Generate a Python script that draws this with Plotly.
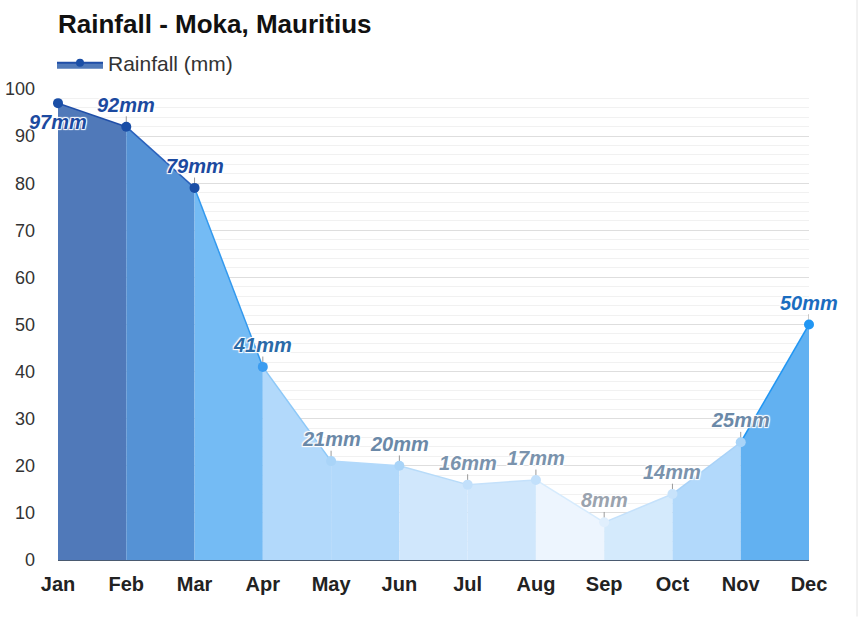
import plotly.graph_objects as go

months = ["Jan", "Feb", "Mar", "Apr", "May", "Jun", "Jul", "Aug", "Sep", "Oct", "Nov", "Dec"]
rainfall = [97, 92, 79, 41, 21, 20, 16, 17, 8, 14, 25, 50]
labels = [f"{v}mm" for v in rainfall]
y_ticks = [0, 10, 20, 30, 40, 50, 60, 70, 80, 90, 100]

# styles
seg_fill = ["#5079b9", "#5592d5", "#74bbf4", "#b2d9fb", "#b2d9fb", "#d0e7fc",
            "#d0e7fc", "#edf5fe", "#d4eafc", "#b2d9fb", "#62b1f1"]
seg_line = ["#1f4ea8", "#2a62bd", "#3399ee", "#8cc8f8", "#b2d9fb", "#b7dbf9",
            "#c4e1fb", "#d6ebfd", "#c4e1fb", "#a8d2f8", "#2196f3"]
marker_col = ["#1a4ea6", "#1a4ea6", "#1a4ea6", "#3b9cf0", "#a9d4f8", "#a9d4f8",
              "#c2e0fb", "#c2e0fb", "#e0effd", "#c8e3fb", "#a9d4f8", "#2196f3"]
label_col = ["#1c4aa0", "#1c4aa0", "#1c4aa0", "#2a6aa8", "#6b89a8", "#6b89a8",
             "#7a93ad", "#7a93ad", "#9aa3ae", "#7a93ad", "#6b89a8", "#1a6dc0"]

FONT = "Liberation Sans, Arial, sans-serif"

fig = go.Figure()

for i in range(len(months) - 1):
    x0, x1 = i, i + 1
    fig.add_trace(go.Scatter(
        x=[x0, x1, x1, x0, x0], y=[rainfall[i], rainfall[i + 1], 0, 0, rainfall[i]],
        fill="toself", fillcolor=seg_fill[i], mode="lines",
        line=dict(width=0), hoverinfo="skip", showlegend=False))
    fig.add_trace(go.Scatter(
        x=[x0, x1], y=[rainfall[i], rainfall[i + 1]], mode="lines",
        line=dict(color=seg_line[i], width=1.5), hoverinfo="skip", showlegend=False))

# points with small tick lines connecting labels to points
fig.add_trace(go.Scatter(
    x=list(range(len(months))), y=rainfall, mode="markers", cliponaxis=False,
    marker=dict(size=10, color=marker_col),
    error_y=dict(type="data", symmetric=False,
                 array=[0] + [2.2] * (len(months) - 1),
                 arrayminus=[0] * len(months),
                 color="#9a9a9a", thickness=1, width=0),
    hoverinfo="skip", showlegend=False))

# legend entry
fig.add_trace(go.Scatter(
    x=[None], y=[None], name="Rainfall (mm)", mode="lines+markers",
    fill="tozeroy", fillcolor="#5079b9",
    line=dict(color="#1f4ea8", width=2), marker=dict(size=8, color="#1a4ea6")))

for i, (m, v) in enumerate(zip(months, rainfall)):
    below = i == 0
    fig.add_annotation(
        x=i, y=v, text=labels[i], showarrow=False,
        yshift=-19 if below else 22,
        font=dict(family=FONT, size=20, color=label_col[i],
                  weight="bold", style="italic",
                  shadow="1px 1px 1px white, -1px -1px 1px white, 1px -1px 1px white, -1px 1px 1px white"))

fig.update_layout(
    width=863, height=617,
    margin=dict(l=58, r=54, t=89, b=57, autoexpand=False),
    paper_bgcolor="white", plot_bgcolor="white",
    font=dict(family=FONT, size=18, color="#333"),
    title=dict(text="<b>Rainfall - Moka, Mauritius</b>", xref="container", yref="container",
               x=58 / 863, xanchor="left", y=1 - 24 / 617, yanchor="middle",
               font=dict(size=26, color="#111")),
    legend=dict(xref="container", yref="container", x=52 / 863, y=1 - 63 / 617,
                xanchor="left", yanchor="middle", orientation="h",
                font=dict(size=21, color="#333"), itemwidth=46,
                bgcolor="rgba(0,0,0,0)"),
    showlegend=True,
    hovermode=False,
)

fig.update_xaxes(
    range=[0, len(months) - 1], tickmode="array",
    tickvals=list(range(len(months))), ticktext=[f"<b>{m}</b>" for m in months],
    showgrid=False, zeroline=False, showline=True, linecolor="#4a5a70", linewidth=1,
    ticks="", ticklabelstandoff=6, tickfont=dict(size=20, color="#222"))

fig.update_yaxes(
    range=[0, 100], tickvals=y_ticks, showgrid=True, gridcolor="#dedede", gridwidth=1,
    zeroline=False, ticks="", ticklabelstandoff=22, tickfont=dict(size=18, color="#333"),
    minor=dict(dtick=2, showgrid=True, gridcolor="#f1f1f1", gridwidth=1))

fig.add_shape(type="line", xref="paper", yref="paper",
              x0=(857 - 58) / 751, x1=(857 - 58) / 751, y0=-0.12, y1=1.19,
              line=dict(color="#e4e4e4", width=1))

fig.write_html("out.html")
